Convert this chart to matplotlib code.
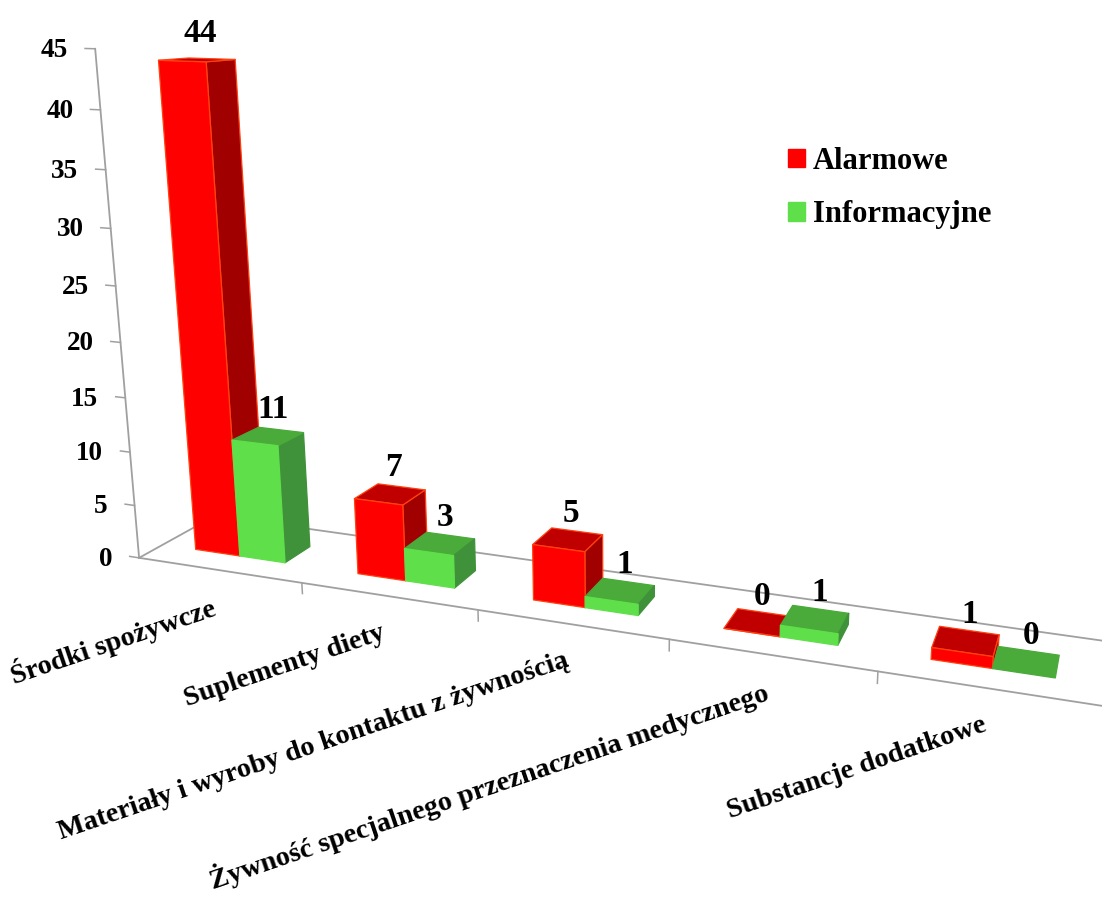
import numpy as np
import matplotlib
matplotlib.use('Agg')
import matplotlib.pyplot as plt
from matplotlib.patches import Patch
from mpl_toolkits.mplot3d import proj3d

categories = ['Środki spożywcze', 'Suplementy diety', 'Materiały i wyroby do kontaktu z żywnością',
              'Żywność specjalnego przeznaczenia medycznego', 'Substancje dodatkowe']
alarmowe = [44, 7, 5, 0, 1]
informacyjne = [11, 3, 1, 1, 0]
y_ticks = [0, 5, 10, 15, 20, 25, 30, 35, 40, 45]
series_names = ['Alarmowe', 'Informacyjne']

# camera calibration: (category, depth, value) seen at reference pixel (u, v)
cam_world = [(0, 0, 0), (1, 0, 0), (2, 0, 0), (4, 0, 0), (5, 0, 0), (0, 0, 45), (0, 1, 0), (5, 1, 0),
             (.21, .3, 0), (.77, .3, 0), (.77, .66, 0), (.21, .3, 44), (.49, .3, 44), (.49, .66, 44),
             (.49, .3, 11), (.77, .3, 11), (.77, .66, 11), (1.21, .3, 7), (1.49, .3, 7), (1.49, .66, 7),
             (1.21, .3, 0), (1.77, .3, 0), (1.77, .66, 0), (2.21, .3, 5), (2.21, .3, 0), (2.49, .3, 0),
             (2.49, .66, 5), (3.21, .3, 0), (3.21, .66, 0), (3.77, .66, 1), (3.77, .3, 1), (3.77, .3, 0),
             (4.21, .3, 0), (4.49, .3, 0), (4.21, .3, 1), (4.49, .3, 1), (4.49, .66, 1), (4.77, .3, 0),
             (4.77, .66, 0)]
cam_px = [(141, 556), (300, 583), (477, 610), (874, 673), (1102, 705), (96, 50), (212, 518), (1102, 643),
          (195, 550), (287, 562), (312, 546), (156, 60), (206, 63), (236, 58),
          (233, 440), (279, 445), (305, 432), (353, 498), (403, 505), (426, 488),
          (357, 575), (455, 588), (477, 570), (530, 546), (530, 602), (585, 607),
          (604, 535), (722, 629), (738, 607), (852, 613), (839, 633), (838, 646),
          (930, 660), (995, 669), (931, 647), (997, 656), (1003, 634), (1060, 678),
          (1064, 656)]

# hidden faces are left transparent, order is bottom, top, front, back, left, right
none = '#00000000'
red_faces = [none, '#c00000', '#ff0000', none, none, '#a00000']
red_edges = [none, '#ff4010', '#ff4010', none, none, '#ff4010']
green_faces = [none, '#4aaa3a', '#5fe04a', none, none, '#3f923a']
green_edges = [none, '#4aaa3a', '#5fe04a', none, none, '#3f923a']
green_flat_edges = [none, '#4aaa3a', none, none, none, none]
grey = '#a0a0a0'

plt.rcParams['font.family'] = ['Liberation Serif', 'DejaVu Serif']
plt.rcParams['font.weight'] = 'bold'

W, H = 1102, 899
fig = plt.figure(figsize=(W / 100, H / 100), dpi=100)
# axes3d forces a square box, so make it a square wider than the figure is tall
ax = fig.add_axes([0, -(W - H) / 2 / H, 1, W / H], projection='3d')
ax.set_axis_off()
ax.computed_zorder = False
ax.apply_aspect()


def fit_camera(world, px):
    # direct linear transform, z and pixels scaled to keep the solve stable
    rows = []
    for (x, y, z), (u, v) in zip(world, px):
        z, u, v = z / 10, u / 1000, v / 1000
        rows.append([x, y, z, 1, 0, 0, 0, 0, -u * x, -u * y, -u * z, -u])
        rows.append([0, 0, 0, 0, x, y, z, 1, -v * x, -v * y, -v * z, -v])
    p = np.linalg.svd(np.array(rows))[2][-1].reshape(3, 4)
    p = np.diag([1000, 1000, 1]) @ p @ np.diag([1, 1, 0.1, 1])
    return p if p[2, 3] > 0 else -p


cam = fit_camera(cam_world, cam_px)
flip = np.array([[1, 0, 0], [0, -1, H], [0, 0, 1]])
to_2d = ax.transData.inverted().get_matrix() @ flip @ cam
M = np.array([to_2d[0], to_2d[1], [0, 0, 0, -1], to_2d[2]])
ax.get_proj = lambda: M
ax.M = M


def label(x, y, z, text, dx=0, dy=0, **kw):
    X, Y, _ = proj3d.proj_transform(x, y, z, M)
    ax.annotate(text, (X, Y), xytext=(dx, dy), textcoords='offset points', annotation_clip=False,
                zorder=5, **kw)


# floor and value axis
n = len(categories)
ax.plot([0, n], [0, 0], [0, 0], color=grey, lw=1.3, zorder=1)
ax.plot([0, n], [1, 1], [0, 0], color=grey, lw=1.3, zorder=1)
ax.plot([0, 0], [0, 1], [0, 0], color=grey, lw=1.3, zorder=1)
ax.plot([0, 0], [0, 0], [0, 45], color=grey, lw=1.3, zorder=1)
for t in y_ticks:
    ax.plot([-0.06, 0], [0, 0], [t, t], color=grey, lw=1.1, zorder=1)
    label(0, 0, t, str(t), dx=-19.5, dy=-1, ha='right', va='center', fontsize=19.5)
for i in range(1, n + 1):
    ax.plot([i, i], [0, 0], [-1, 0], color=grey, lw=1.1, zorder=1)

bar_w = 0.28
y_front = 0.3
bar_d = 0.36
for i in range(n):
    ax.bar3d(i + 0.21, y_front, 0, bar_w, bar_d, alarmowe[i], color=red_faces, edgecolor=red_edges,
             shade=False, linewidth=0.9, zorder=2)
    label(i + 0.35, y_front + bar_d / 2, alarmowe[i], str(alarmowe[i]), dx=2.5, dy=19,
          ha='center', va='center', fontsize=24)
    ax.bar3d(i + 0.49, y_front, 0, bar_w, bar_d, informacyjne[i], color=green_faces,
             edgecolor=green_edges if informacyjne[i] > 0 else green_flat_edges,
             shade=False, linewidth=0.9, zorder=2)
    label(i + 0.63, y_front + bar_d / 2, informacyjne[i], str(informacyjne[i]), dx=3.5, dy=19,
          ha='center', va='center', fontsize=24)
    label(i + 0.5, 0, 0, categories[i], dx=-3, dy=-26, ha='right', va='center',
          rotation=18.8, rotation_mode='anchor', fontsize=20.4)

handles = [Patch(color='#ff0000', label=series_names[0]), Patch(color='#5fe04a', label=series_names[1])]
fig.legend(handles=handles, loc='center left', bbox_to_anchor=(788 / W, 1 - 188 / H), frameon=False,
           fontsize=22, borderpad=0, borderaxespad=0, handlelength=0.57, handleheight=0.57,
           handletextpad=0.25, labelspacing=0.8)

fig.savefig('out.png', dpi=100)
